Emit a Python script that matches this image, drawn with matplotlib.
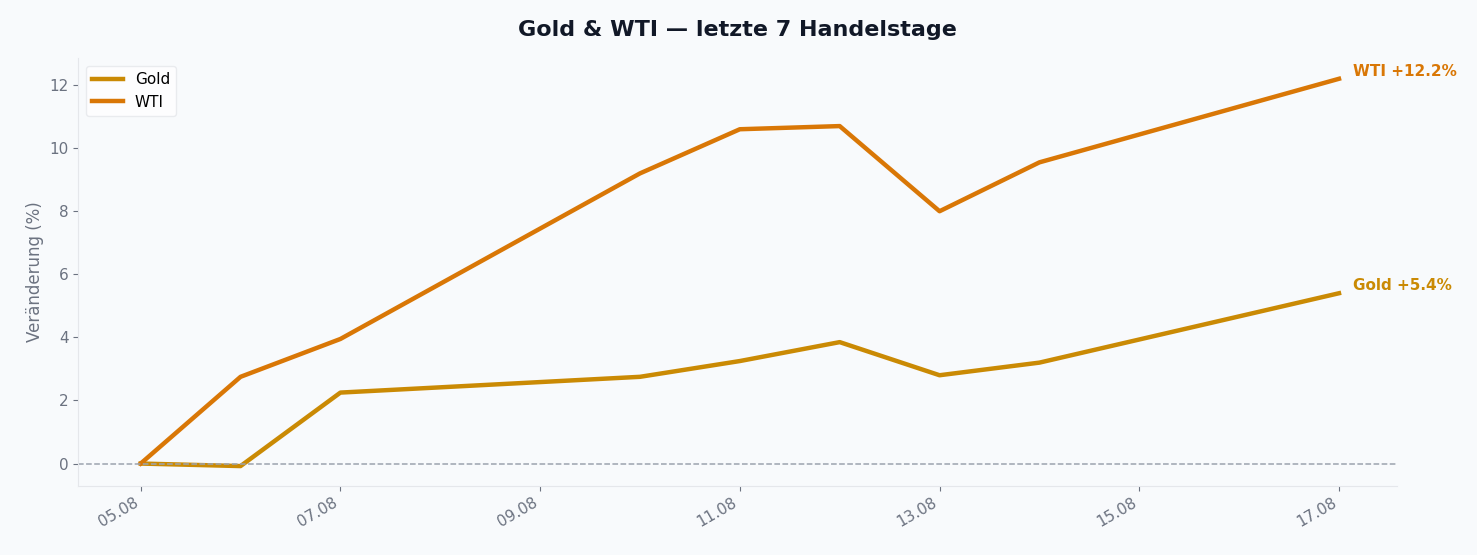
import matplotlib
matplotlib.use("Agg")
import matplotlib.pyplot as plt
import matplotlib.dates as mdates
import pandas as pd

dates = ["2024-08-05","2024-08-06","2024-08-07","2024-08-10","2024-08-11","2024-08-12","2024-08-13","2024-08-14","2024-08-17"]
gold = [0.0, -0.08, 2.25, 2.75, 3.25, 3.85, 2.8, 3.2, 5.4]
wti = [0.0, 2.75, 3.95, 9.2, 10.6, 10.7, 8.0, 9.55, 12.2]
x = pd.to_datetime(dates)

bg = "#f8fafc"
cg, cw = "#ca8a04", "#d97706"
fig, ax = plt.subplots(figsize=(14.77, 5.55), dpi=100)
fig.patch.set_facecolor(bg); ax.set_facecolor(bg)
ax.plot(x, gold, color=cg, lw=3.2, label="Gold")
ax.plot(x, wti, color=cw, lw=3.2, label="WTI")
ax.axhline(0, color="#9ca3af", lw=1.1, ls="--")
ax.annotate(f"WTI +{wti[-1]:.1f}%", (x[-1], wti[-1]), xytext=(10, 0), textcoords="offset points",
            color=cw, fontsize=11, fontweight="bold", va="bottom")
ax.annotate(f"Gold +{gold[-1]:.1f}%", (x[-1], gold[-1]), xytext=(10, 0), textcoords="offset points",
            color=cg, fontsize=11, fontweight="bold", va="bottom")
ax.set_title("Gold & WTI — letzte 7 Handelstage", fontsize=16, fontweight="bold", color="#111827", pad=16)
ax.set_ylabel("Veränderung (%)", fontsize=12, color="#6b7280")
ax.xaxis.set_major_locator(mdates.DayLocator(interval=2))
ax.xaxis.set_major_formatter(mdates.DateFormatter("%d.%m"))
ax.set_xlim(pd.Timestamp("2024-08-04 09:00"), pd.Timestamp("2024-08-17 14:00"))
ax.set_ylim(-0.7, 12.85)
for lab in ax.get_xticklabels():
    lab.set_rotation(30); lab.set_ha("right")
ax.tick_params(colors="#6b7280", labelsize=11)
for s in ["top", "right"]:
    ax.spines[s].set_visible(False)
for s in ["left", "bottom"]:
    ax.spines[s].set_color("#e5e7eb")
ax.legend(loc="upper left", fontsize=11, facecolor="white", edgecolor="#e5e7eb")
fig.subplots_adjust(left=0.053, right=0.946, top=0.895, bottom=0.125)
fig.savefig("out.png", dpi=100, facecolor=bg)
